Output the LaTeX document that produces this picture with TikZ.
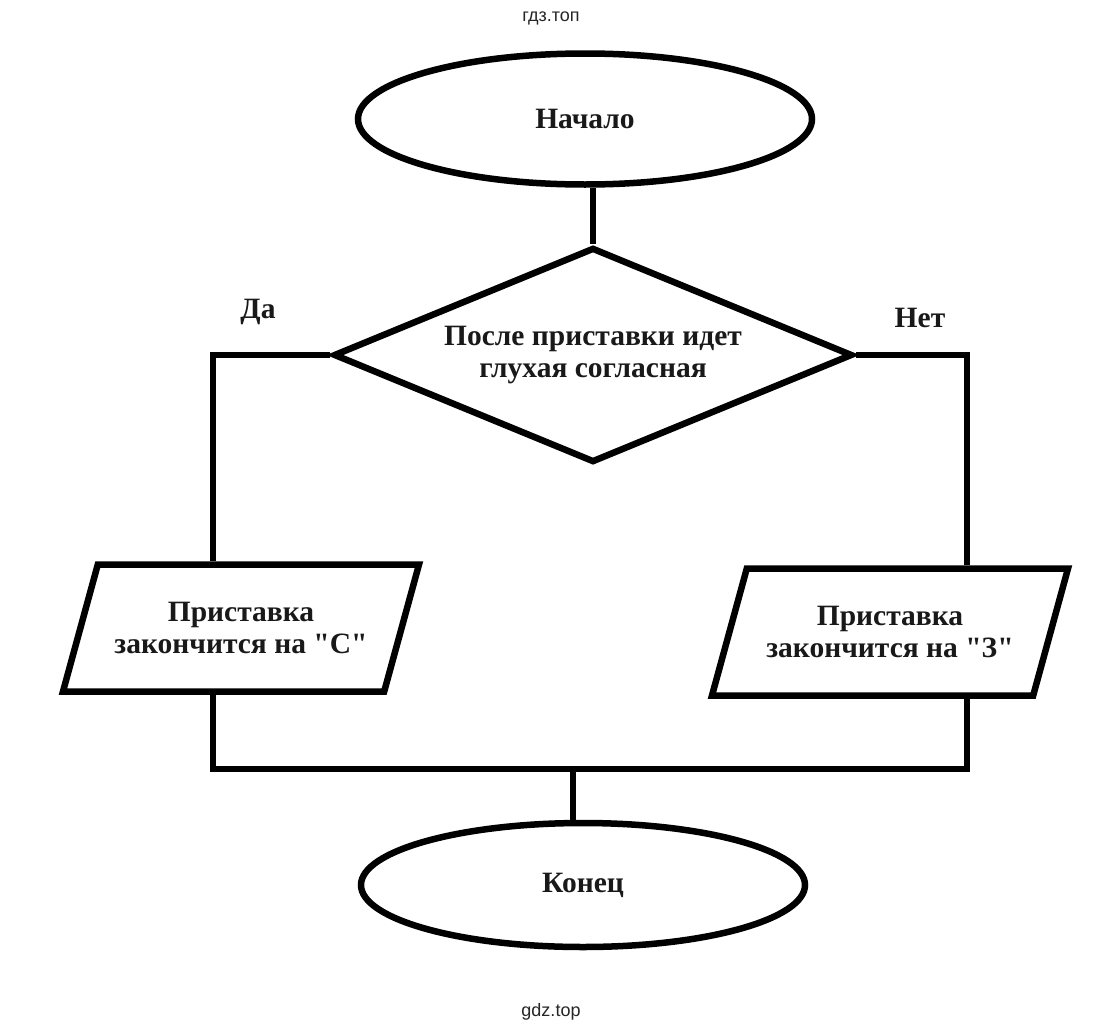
\documentclass[tikz,border=0pt]{standalone}
\usepackage{fontspec}
\setmainfont{Liberation Serif}
\newfontfamily\wmfont{Liberation Sans}
\usetikzlibrary{shapes.geometric}
\tikzset{
    flow/.style={draw, line width=6.5pt, inner sep=0pt, align=center,
        font=\bfseries\fontsize{29.5}{32}\selectfont, text=black!90},
    terminal/.style={flow, ellipse, minimum width=454pt, minimum height=131pt},
    decision/.style={flow, diamond, aspect=2.4, minimum width=519pt, minimum height=215pt},
    iobox/.style={flow, trapezium, trapezium left angle=56, trapezium right angle=124,
        trapezium stretches body, minimum width=356pt, minimum height=127pt},
    branch/.style={font=\bfseries\fontsize{29.5}{32}\selectfont, text=black!90},
    wire/.style={line width=6.5pt},
    watermark/.style={font=\wmfont\fontsize{18}{20}\selectfont, text=black!85}
}

\begin{document}
\begin{tikzpicture}[x=1pt, y=-1pt]
        \fill[white] (0,0) rectangle (1106,1028);
        \useasboundingbox (0,0) rectangle (1106,1028);

        \node[watermark, anchor=base] (wmtop) at (551,21) {гдз.топ};
        \node[watermark, anchor=base] (wmbottom) at (551,1016) {gdz.top};

        \node[terminal] (start) at (585,119) {Начало};
        \node[decision] (cond) at (593,355) {После приставки идет\\глухая согласная};
        \node[iobox] (yesbox) at (241,628) {Приставка\\закончится на \textquotedbl С\textquotedbl};
        \node[iobox] (nobox) at (890,632) {Приставка\\закончится на \textquotedbl З\textquotedbl};
        \node[terminal, minimum width=444pt, minimum height=124pt] (stop) at (583,885) {Конец};

        \node[branch] (yes) at (258,312) {Да};
        \node[branch] (no) at (920,318) {Нет};

        \coordinate (yesx) at (213,0);
        \coordinate (nox) at (967,0);
        \coordinate (join) at (573,769);

        \draw[wire] (start.south -| cond.north) -- (cond.north);
        \draw[wire] (cond.west) -| (yesx |- yesbox.north);
        \draw[wire] (cond.east) -| (nox |- nobox.north);
        \draw[wire] (yesx |- yesbox.south) |- (join) -| (nox |- nobox.south);
        \draw[wire] (join) -- (join |- stop.north);
    \end{tikzpicture}
\end{document}
